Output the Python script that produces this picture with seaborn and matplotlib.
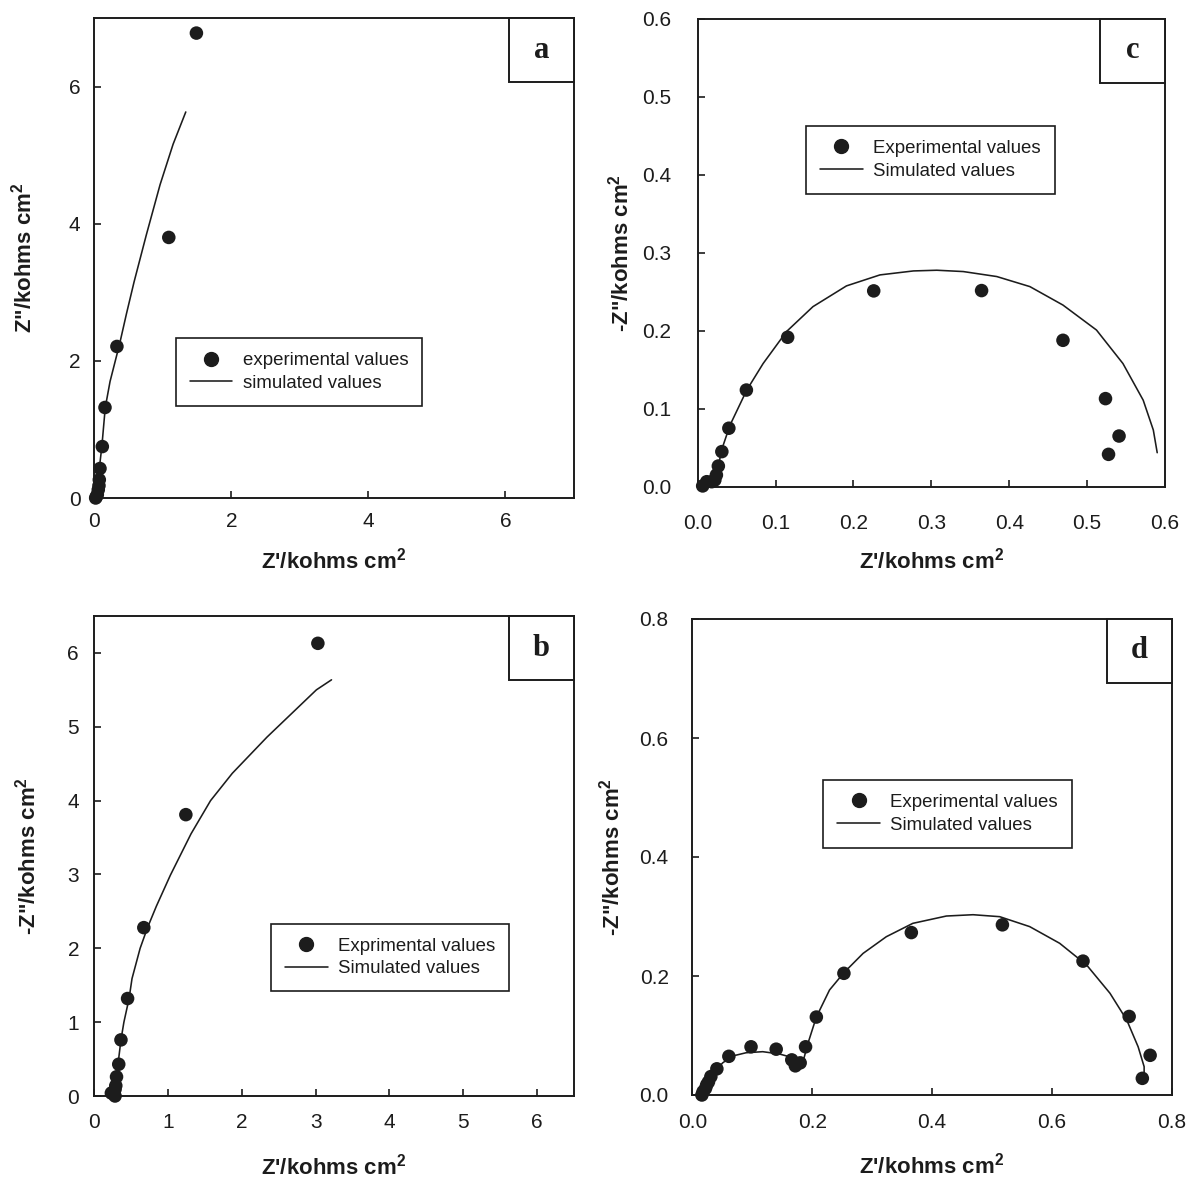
import matplotlib
matplotlib.use("Agg")
import matplotlib.pyplot as plt
from matplotlib.patches import Rectangle
from matplotlib.lines import Line2D
from matplotlib.ticker import FormatStrFormatter, MultipleLocator
import seaborn as sns
import pandas as pd

# ---- panel a ----
a_exp_zr = [0.02, 0.03, 0.044, 0.058, 0.068, 0.073, 0.083, 0.117, 0.156, 0.33, 1.087, 1.49]
a_exp_zi = [0.0, 0.02, 0.048, 0.12, 0.18, 0.266, 0.43, 0.75, 1.32, 2.21, 3.80, 6.78]
a_sim_zr = [0.02, 0.04, 0.065, 0.11, 0.16, 0.23, 0.37, 0.47, 0.58, 0.76, 0.96, 1.15, 1.335]
a_sim_zi = [0.0, 0.12, 0.36, 0.75, 1.32, 1.70, 2.25, 2.69, 3.15, 3.84, 4.57, 5.16, 5.63]

# ---- panel b ----
b_exp_zr = [0.23, 0.26, 0.28, 0.28, 0.29, 0.30, 0.33, 0.36, 0.45, 0.67, 1.24, 3.03]
b_exp_zi = [0.04, 0.04, 0.0, 0.09, 0.14, 0.26, 0.43, 0.76, 1.32, 2.28, 3.81, 6.13]
b_sim_zr = [0.27, 0.29, 0.32, 0.36, 0.40, 0.47, 0.51, 0.62, 0.72, 0.84, 1.03, 1.31, 1.575,
            1.87, 2.34, 3.01, 3.215]
b_sim_zi = [0.0, 0.19, 0.43, 0.76, 1.0, 1.32, 1.59, 2.0, 2.28, 2.57, 2.99, 3.55, 4.0,
            4.37, 4.86, 5.50, 5.636]

# ---- panel c ----
c_exp_zr = [0.0064, 0.0116, 0.018, 0.022, 0.024, 0.0265, 0.031, 0.040, 0.0625, 0.1155,
            0.226, 0.3645, 0.469, 0.5236, 0.541, 0.5275]
c_exp_zi = [0.001, 0.0064, 0.0064, 0.0086, 0.015, 0.0265, 0.045, 0.075, 0.124, 0.1917,
            0.2512, 0.2516, 0.1878, 0.113, 0.065, 0.0415]
c_sim_zr = [0.005, 0.015, 0.024, 0.032, 0.0415, 0.063, 0.084, 0.114, 0.148, 0.191, 0.234,
            0.277, 0.307, 0.341, 0.384, 0.4265, 0.469, 0.512, 0.546, 0.572, 0.585, 0.59]
c_sim_zi = [0.0, 0.005, 0.017, 0.051, 0.079, 0.124, 0.158, 0.199, 0.231, 0.2576, 0.2717,
            0.2768, 0.2777, 0.276, 0.2696, 0.2567, 0.233, 0.201, 0.158, 0.111, 0.0727, 0.0436]

# ---- panel d ----
d_exp_zr = [0.016, 0.018, 0.022, 0.024, 0.027, 0.031, 0.041, 0.061, 0.098, 0.140, 0.166,
            0.172, 0.180, 0.189, 0.207, 0.253, 0.3655, 0.5175, 0.652, 0.729, 0.764, 0.751]
d_exp_zi = [0.0, 0.0056, 0.011, 0.017, 0.022, 0.031, 0.044, 0.065, 0.081, 0.077, 0.059,
            0.049, 0.054, 0.081, 0.131, 0.2045, 0.273, 0.286, 0.225, 0.132, 0.0667, 0.028]
d_sim_zr = [0.013, 0.023, 0.034, 0.0507, 0.067, 0.0897, 0.1175, 0.145, 0.168, 0.1855, 0.193,
            0.207, 0.229, 0.253, 0.285, 0.3237, 0.368, 0.424, 0.4685, 0.513, 0.563, 0.613,
            0.658, 0.697, 0.725, 0.744, 0.754, 0.754]
d_sim_zi = [0.0, 0.017, 0.036, 0.054, 0.0655, 0.071, 0.0728, 0.069, 0.0627, 0.0588, 0.0868,
            0.131, 0.1765, 0.2056, 0.238, 0.266, 0.2885, 0.3008, 0.303, 0.2997, 0.283, 0.255,
            0.2185, 0.171, 0.126, 0.081, 0.0476, 0.031]

panel_letters = ["a", "b", "c", "d"]
legend_exp = ["experimental values", "Exprimental values", "Experimental values", "Experimental values"]
legend_sim = ["simulated values", "Simulated values", "Simulated values", "Simulated values"]
xlabel_text = "Z'/kohms cm$^{\\mathbf{2}}$"
ylabel_a = 'Z"/kohms cm$^{\\mathbf{2}}$'
ylabel_neg = '-Z"/kohms cm$^{\\mathbf{2}}$'

sns.set_style("ticks")
plt.rcParams["font.family"] = ["Liberation Sans", "DejaVu Sans"]
plt.rcParams["mathtext.fontset"] = "custom"
plt.rcParams["mathtext.rm"] = "Liberation Sans"
plt.rcParams["mathtext.bf"] = "Liberation Sans:bold"

INK = "#1c1c1c"
W, H = 1186, 1183
fig = plt.figure(figsize=(W / 100, H / 100), dpi=100)

# axes rectangles in figure pixels: left, top, right, bottom
boxes = {
    "a": (94.3, 18, 574, 498),
    "b": (94.4, 616, 573.8, 1096),
    "c": (697.7, 19, 1165, 486.7),
    "d": (692.3, 619, 1171.7, 1095),
}

spec = {
    "a": dict(exp=(a_exp_zr, a_exp_zi), sim=(a_sim_zr, a_sim_zi), lim=(0, 7, 0, 7),
              step=(2, 2), fmt="%d", ylabel=ylabel_a, pad=(10, 10),
              xlab=-0.13, ylab=-0.147, leg=(175.7, 338.3)),
    "b": dict(exp=(b_exp_zr, b_exp_zi), sim=(b_sim_zr, b_sim_zi), lim=(0, 6.5, 0, 6.5),
              step=(1, 1), fmt="%d", ylabel=ylabel_neg, pad=(12, 11),
              xlab=-0.146, ylab=-0.139, leg=(271.1, 923.7)),
    "c": dict(exp=(c_exp_zr, c_exp_zi), sim=(c_sim_zr, c_sim_zi), lim=(0, 0.6, 0, 0.6),
              step=(0.1, 0.1), fmt="%.1f", ylabel=ylabel_neg, pad=(20, 19),
              xlab=-0.157, ylab=-0.166, leg=(806, 126)),
    "d": dict(exp=(d_exp_zr, d_exp_zi), sim=(d_sim_zr, d_sim_zi), lim=(0, 0.8, 0, 0.8),
              step=(0.2, 0.2), fmt="%.1f", ylabel=ylabel_neg, pad=(13, 17),
              xlab=-0.149, ylab=-0.168, leg=(823.3, 780)),
}

for i, key in enumerate(panel_letters):
    l, t, r, b = boxes[key]
    ax = fig.add_axes([l / W, 1 - b / H, (r - l) / W, (b - t) / H])
    s = spec[key]
    exp_df = pd.DataFrame({"zr": s["exp"][0], "zi": s["exp"][1]})
    sim_df = pd.DataFrame({"zr": s["sim"][0], "zi": s["sim"][1]})

    sns.lineplot(data=sim_df, x="zr", y="zi", sort=False, estimator=None, ax=ax,
                 color=INK, linewidth=1.15, legend=False)
    sns.scatterplot(data=exp_df, x="zr", y="zi", ax=ax, color=INK, s=95,
                    edgecolor="none", linewidth=0, clip_on=False, legend=False, zorder=3)

    x0, x1, y0, y1 = s["lim"]
    ax.set_xlim(x0, x1)
    ax.set_ylim(y0, y1)
    ax.xaxis.set_major_locator(MultipleLocator(s["step"][0]))
    ax.yaxis.set_major_locator(MultipleLocator(s["step"][1]))
    ax.xaxis.set_major_formatter(FormatStrFormatter(s["fmt"]))
    ax.yaxis.set_major_formatter(FormatStrFormatter(s["fmt"]))
    ax.tick_params(axis="both", direction="in", length=5, width=1.2, color=INK,
                   labelsize=15, labelcolor=INK)
    ax.tick_params(axis="x", pad=s["pad"][0])
    ax.tick_params(axis="y", pad=s["pad"][1])
    for sp in ax.spines.values():
        sp.set_visible(True)
        sp.set_linewidth(1.4)
        sp.set_color(INK)

    ax.set_xlabel(xlabel_text, fontsize=16, fontweight="bold", color=INK)
    ax.set_ylabel(s["ylabel"], fontsize=16, fontweight="bold", color=INK)
    ax.xaxis.set_label_coords(0.5, s["xlab"])
    ax.yaxis.set_label_coords(s["ylab"], 0.5)
    ax.xaxis.label.set_va("center")
    ax.yaxis.label.set_va("center")

    # legend: filled dot for measured points, plain line for the fit
    handles = [
        Line2D([], [], linestyle="none", marker="o", markersize=10, color=INK),
        Line2D([], [], color=INK, linewidth=1.15),
    ]
    lx, ly = s["leg"]
    leg = ax.legend(handles, [legend_exp[i], legend_sim[i]], loc="upper left",
                    bbox_to_anchor=((lx - l) / (r - l), (b - ly) / (b - t)),
                    bbox_transform=ax.transAxes, borderaxespad=0, frameon=True,
                    fancybox=False, framealpha=1, edgecolor=INK, fontsize=13.4,
                    handlelength=2.3, handletextpad=0.55, borderpad=0.75,
                    labelspacing=0.3)
    leg.get_frame().set_linewidth(1.2)
    for txt in leg.get_texts():
        txt.set_color(INK)

    # panel letter box in the top-right corner
    bw = 65 / (r - l)
    bh = 64 / (b - t)
    ax.add_patch(Rectangle((1 - bw, 1 - bh), bw, bh, transform=ax.transAxes,
                           facecolor="white", edgecolor=INK, linewidth=1.4,
                           zorder=5, clip_on=False))
    ax.text(1 - bw / 2, 1 - bh / 2, key, transform=ax.transAxes, ha="center",
            va="center", fontsize=22, fontweight="bold", family="Liberation Serif",
            color=INK, zorder=6)

fig.savefig("out.png", dpi=100)
